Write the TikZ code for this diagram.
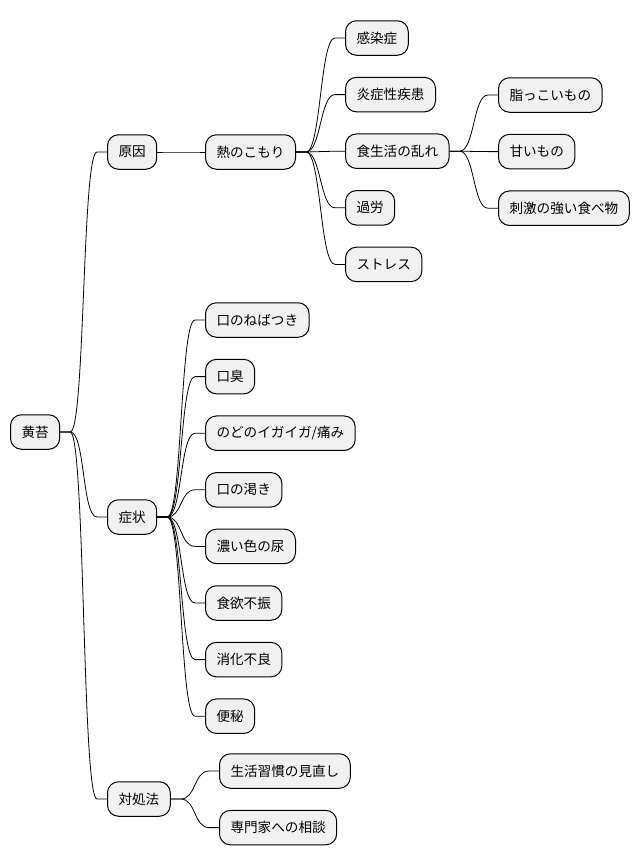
\documentclass[tikz,border=0pt]{standalone}
\usepackage{fontspec}
\setmainfont{Noto Sans CJK JP}
\usetikzlibrary{positioning, calc}

\begin{document}
\begin{tikzpicture}[
    x=1pt, y=-1pt,
    node distance=56.6pt,
    box/.style={
      draw, fill=boxgray, rounded corners=11pt, line width=1pt,
      minimum height=34.5pt, inner xsep=11pt, anchor=west,
      font=\fontsize{13.6}{16}\selectfont
    },
    branch/.style={
      to path={(\tikztostart.east) -- ++(10,0)
        .. controls +(15,0) and +(-15,0) .. ([xshift=-10pt]\tikztotarget.west)
        -- (\tikztotarget.west)}
    },
    every path/.style={line width=.8pt},
  ]
    \definecolor{boxgray}{HTML}{F1F1F1}
    \useasboundingbox (0,0) rectangle (642,865);

    % root
    \node [box] (root) at (10,432) {黄苔};

    % first level
    \node [box] (cause) at (107,152) {原因};
    \node [box] (symptom) at (107,517) {症状};
    \node [box] (remedy) at (107,799) {対処法};

    % causes
    \node [box] (heat) at (205,152) {熱のこもり};
    \node [box] (infect) at (345,38) {感染症};
    \node [box, below=of infect.west, anchor=west] (inflam) {炎症性疾患};
    \node [box, below=of inflam.west, anchor=west] (diet) {食生活の乱れ};
    \node [box, below=of diet.west, anchor=west] (fatigue) {過労};
    \node [box, below=of fatigue.west, anchor=west] (stress) {ストレス};
    \node [box] (oily) at (498,95) {脂っこいもの};
    \node [box, below=of oily.west, anchor=west] (sweet) {甘いもの};
    \node [box, below=of sweet.west, anchor=west] (spicy) {刺激の強い食べ物};

    % symptoms
    \node [box] (sticky) at (205,320) {口のねばつき};
    \node [box, below=of sticky.west, anchor=west] (breath) {口臭};
    \node [box, below=of breath.west, anchor=west] (throat) {のどのイガイガ/痛み};
    \node [box, below=of throat.west, anchor=west] (thirst) {口の渇き};
    \node [box, below=of thirst.west, anchor=west] (urine) {濃い色の尿};
    \node [box, below=of urine.west, anchor=west] (appetite) {食欲不振};
    \node [box, below=of appetite.west, anchor=west] (digest) {消化不良};
    \node [box, below=of digest.west, anchor=west] (constip) {便秘};

    % remedies
    \node [box] (habit) at (219,771) {生活習慣の見直し};
    \node [box, below=of habit.west, anchor=west] (consult) {専門家への相談};

    % branches
    \draw (root) to[branch] (cause);
    \draw (root) to[branch] (symptom);
    \draw (root) to[branch] (remedy);
    \draw (cause) to[branch] (heat);
    \draw (heat) to[branch] (infect);
    \draw (heat) to[branch] (inflam);
    \draw (heat) to[branch] (diet);
    \draw (heat) to[branch] (fatigue);
    \draw (heat) to[branch] (stress);
    \draw (diet) to[branch] (oily);
    \draw (diet) to[branch] (sweet);
    \draw (diet) to[branch] (spicy);
    \draw (symptom) to[branch] (sticky);
    \draw (symptom) to[branch] (breath);
    \draw (symptom) to[branch] (throat);
    \draw (symptom) to[branch] (thirst);
    \draw (symptom) to[branch] (urine);
    \draw (symptom) to[branch] (appetite);
    \draw (symptom) to[branch] (digest);
    \draw (symptom) to[branch] (constip);
    \draw (remedy) to[branch] (habit);
    \draw (remedy) to[branch] (consult);

  \end{tikzpicture}
\end{document}
